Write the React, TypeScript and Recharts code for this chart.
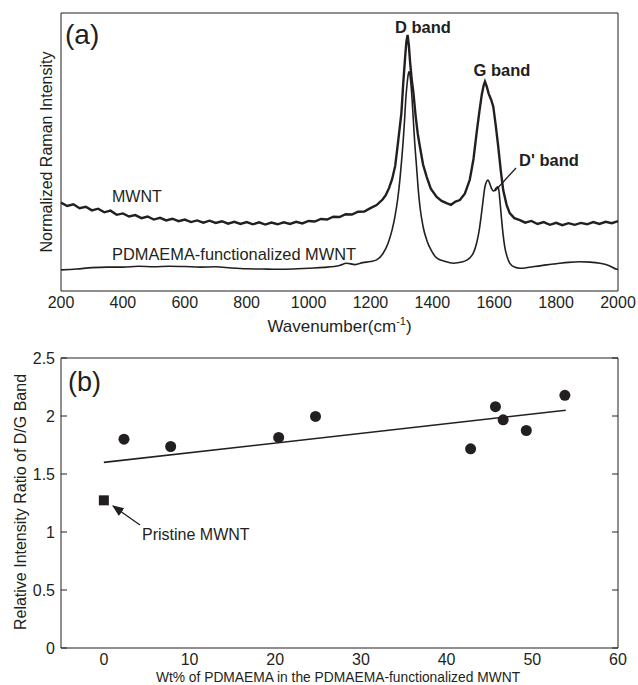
import {
  ComposedChart,
  LineChart,
  Line,
  Scatter,
  XAxis,
  YAxis,
} from "recharts";

// (a) Raman spectra, intensity in normalized units (0 = bottom of frame, 100 = top)
const mwntWavenumber = [
  200, 220, 240, 260, 280, 300, 320, 340, 360, 380, 400, 420, 440, 460, 480, 500, 520, 540, 560, 580,
  600, 620, 640, 660, 680, 700, 720, 740, 760, 780, 800, 820, 840, 860, 880, 900, 920, 940, 960, 980,
  1000, 1020, 1040, 1060, 1080, 1100, 1120, 1140, 1160, 1180, 1200, 1220, 1240, 1250, 1260, 1270, 1280,
  1290, 1300, 1306, 1312, 1316, 1320, 1324, 1328, 1333, 1339, 1346, 1353, 1360, 1370, 1382, 1395, 1414,
  1430, 1446, 1460, 1475, 1489, 1505, 1521, 1533, 1543, 1552, 1560, 1566, 1570, 1576, 1582, 1590, 1597,
  1605, 1613, 1621, 1629, 1640, 1650, 1665, 1683, 1700, 1720, 1740, 1760, 1780, 1800, 1820, 1840, 1860,
  1880, 1900, 1920, 1940, 1960, 1980, 2000,
];
const mwntIntensity = [
  31.8, 30.6, 31.2, 29.8, 30.3, 29.0, 29.6, 28.3, 28.9, 27.4, 27.9, 26.8, 27.3, 26.2, 26.8, 25.7, 26.3, 25.4, 26.0, 25.1,
  25.7, 24.8, 25.4, 24.6, 25.3, 24.5, 25.1, 24.2, 24.9, 24.1, 24.8, 24.0, 24.7, 23.9, 24.6, 24.0, 24.7, 24.1, 24.9, 24.3,
  25.2, 25.0, 25.9, 25.7, 26.7, 26.6, 27.6, 27.5, 28.5, 28.6, 29.8, 30.9, 33.0, 34.6, 37.0, 40.2, 45.0,
  54.3, 64.0, 74.8, 84.0, 89.5, 92.1, 88.5, 82.5, 76.5, 71.2, 63.0, 56.5, 51.8, 45.5, 41.0, 36.8, 33.8,
  32.4, 31.6, 31.0, 32.2, 32.7, 35.0, 40.0, 47.5, 56.8, 64.5, 70.8, 74.0, 75.3, 73.5, 71.0, 68.8, 66.3,
  59.5, 51.9, 43.5, 36.3, 31.0, 28.0, 26.2, 25.5, 24.6, 25.2, 24.1, 24.8, 23.8, 24.5, 23.7, 24.4, 23.8,
  24.5, 24.0, 24.8, 24.1, 24.9, 24.4, 25.1,
];

const pdmWavenumber = [
  200, 250, 300, 350, 400, 450, 500, 550, 600, 650, 700, 750, 800, 850, 900, 950, 1000, 1050, 1100, 1123,
  1150, 1175, 1200, 1220, 1240, 1257, 1270, 1279, 1288, 1295, 1300, 1306, 1310, 1314, 1318, 1322, 1325,
  1329, 1333, 1338, 1343, 1349, 1354, 1360, 1370, 1382, 1397, 1414, 1440, 1468, 1495, 1510, 1521, 1533,
  1543, 1551, 1559, 1565, 1570, 1575, 1580, 1585, 1591, 1597, 1602, 1608, 1613, 1618, 1623, 1628, 1634,
  1642, 1650, 1665, 1683, 1700, 1730, 1769, 1800, 1840, 1877, 1910, 1942, 1970, 1996, 2000,
];
const pdmIntensity = [
  7.6, 7.9, 8.4, 8.6, 8.6, 8.9, 8.7, 8.9, 8.8, 8.6, 8.7, 8.3, 8.0, 7.9, 7.8, 7.9, 8.2, 8.5, 9.2, 10.0,
  9.5, 10.2, 10.6, 11.2, 13.4, 17.2, 22.0, 26.7, 33.0, 39.9, 46.0, 54.3, 61.0, 68.7, 74.0, 77.8, 78.9,
  76.5, 71.5, 62.7, 53.5, 44.7, 37.2, 30.3, 23.2, 18.3, 14.5, 11.9, 10.7, 10.0, 10.4, 11.0, 11.9, 13.8,
  17.2, 21.5, 28.0, 33.5, 37.5, 39.3, 39.9, 38.8, 37.0, 36.0, 36.3, 37.3, 37.5, 33.0, 26.7, 21.0, 15.9,
  12.2, 10.0, 8.6, 8.2, 8.3, 8.8, 9.4, 9.8, 10.3, 10.5, 10.4, 10.0, 9.2, 7.8, 7.7,
];
const wavenumberTicks = [200, 400, 600, 800, 1000, 1200, 1400, 1600, 1800, 2000];

// (b) D/G ratio vs polymer content
const wtPercent = [2.35, 7.8, 20.4, 24.7, 42.8, 45.7, 46.6, 49.3, 53.8];
const dgRatio = [1.8, 1.737, 1.815, 1.996, 1.717, 2.08, 1.967, 1.875, 2.178];
const pristineWt = [0];
const pristineRatio = [1.273];
const fitWt = [0, 53.9];
const fitRatio = [1.6, 2.05];
const wtTicks = [0, 10, 20, 30, 40, 50, 60];
const ratioTicks = [0, 0.5, 1, 1.5, 2, 2.5];

const INK = "#231f20";
const FONT = "'Liberation Sans', Arial, Helvetica, sans-serif";

const mwnt = mwntWavenumber.map((wn, i) => ({ wn, v: mwntIntensity[i] }));
const pdm = pdmWavenumber.map((wn, i) => ({ wn, v: pdmIntensity[i] }));
const points = wtPercent.map((w, i) => ({ w, r: dgRatio[i] }));
const pristine = pristineWt.map((w, i) => ({ w, r: pristineRatio[i] }));
const fit = fitWt.map((w, i) => ({ w, r: fitRatio[i] }));

const tickStyle = { fontSize: 16, fill: INK, fontFamily: FONT };
const blank = () => "";

function Dot(props: any) {
  return <circle cx={props.cx} cy={props.cy} r={5.5} fill={INK} />;
}

function Square(props: any) {
  return <rect x={props.cx - 5} y={props.cy - 5} width={10} height={10} fill={INK} />;
}

// frame-only axes: inward tick marks, no labels
function frameX(id: string, top: boolean, domain: number[], ticks: number[]) {
  return (
    <XAxis xAxisId={id} orientation={top ? "top" : "bottom"} type="number" domain={domain} ticks={ticks}
      allowDataOverflow mirror height={1} tickSize={6} tickFormatter={blank} interval={0}
      stroke={INK} tickLine={{ stroke: INK }} />
  );
}

function frameY(id: string, right: boolean, domain: number[], ticks: number[] | null) {
  return (
    <YAxis yAxisId={id} orientation={right ? "right" : "left"} type="number" domain={domain}
      ticks={ticks ?? undefined} tick={ticks ? undefined : false} allowDataOverflow mirror width={1}
      tickSize={6} tickFormatter={blank} interval={0} stroke={INK} tickLine={{ stroke: INK }} />
  );
}

function SpectraPanel() {
  return (
    <LineChart width={638} height={340} margin={{ top: 13, right: 20, bottom: 19, left: 61 }}>
      <XAxis
        type="number"
        dataKey="wn"
        domain={[200, 2000]}
        ticks={wavenumberTicks}
        height={30}
        tickSize={0}
        tickMargin={6}
        axisLine={false}
        tick={tickStyle}
      />
      {frameX("bm", false, [200, 2000], wavenumberTicks)}
      {frameX("tm", true, [200, 2000], wavenumberTicks)}
      <YAxis hide type="number" domain={[0, 100]} />
      {frameY("l", false, [0, 100], null)}
      {frameY("r", true, [0, 100], null)}
      <Line data={mwnt} dataKey="v" type="linear" stroke={INK} strokeWidth={2.4} dot={false}
        activeDot={false} isAnimationActive={false} />
      <Line data={pdm} dataKey="v" type="monotone" stroke={INK} strokeWidth={1.6} dot={false}
        activeDot={false} isAnimationActive={false} />
    </LineChart>
  );
}

function RatioPanel() {
  return (
    <ComposedChart width={638} height={345} margin={{ top: 18, right: 20, bottom: 12, left: 16 }}>
      <XAxis
        type="number"
        dataKey="w"
        domain={[-5, 60]}
        ticks={wtTicks}
        height={25}
        tickSize={0}
        tickMargin={6}
        axisLine={false}
        tick={tickStyle}
      />
      {frameX("bm", false, [-5, 60], wtTicks)}
      {frameX("tm", true, [-5, 60], wtTicks)}
      <YAxis
        type="number"
        dataKey="r"
        domain={[0, 2.5]}
        ticks={ratioTicks}
        width={45}
        tickSize={0}
        tickMargin={6}
        axisLine={false}
        tick={tickStyle}
      />
      {frameY("l", false, [0, 2.5], ratioTicks)}
      {frameY("r", true, [0, 2.5], ratioTicks)}
      <Line data={fit} dataKey="r" type="linear" stroke={INK} strokeWidth={1.6} dot={false}
        activeDot={false} isAnimationActive={false} />
      <Scatter data={points} dataKey="r" shape={<Dot />} isAnimationActive={false} />
      <Scatter data={pristine} dataKey="r" shape={<Square />} isAnimationActive={false} />
    </ComposedChart>
  );
}

export default function App() {
  return (
    <div style={{ position: "fixed", left: 0, top: 0, width: 638, height: 685, background: "#fff", fontFamily: FONT }}>
      <div style={{ position: "absolute", left: 0, top: 0 }}>
        <SpectraPanel />
      </div>
      <div style={{ position: "absolute", left: 0, top: 340 }}>
        <RatioPanel />
      </div>
      <svg width={638} height={685} style={{ position: "absolute", left: 0, top: 0, pointerEvents: "none" }}
        fontFamily={FONT} fill={INK}>
        <defs>
          <marker id="head" viewBox="0 0 10 10" refX="9" refY="5" markerWidth="9" markerHeight="9" orient="auto-start-reverse">
            <path d="M0,1 L10,5 L0,9 z" fill={INK} />
          </marker>
        </defs>
        {/* panel (a) */}
        <text x={65} y={44} fontSize={28}>(a)</text>
        <text x={423} y={33} fontSize={16.5} fontWeight="bold" textAnchor="middle">D band</text>
        <text x={502} y={76} fontSize={16.5} fontWeight="bold" textAnchor="middle">G band</text>
        <text x={549} y={166} fontSize={16.5} fontWeight="bold" textAnchor="middle">D' band</text>
        <line x1={516} y1={168} x2={495} y2={191} stroke={INK} strokeWidth={1.3} />
        <text x={112} y={202} fontSize={16}>MWNT</text>
        <text x={112} y={260} fontSize={16.4}>PDMAEMA-functionalized MWNT</text>
        <text transform="translate(52,152) rotate(-90)" fontSize={16} textAnchor="middle">
          Normalized Raman Intensity
        </text>
        <text x={339.5} y={332} fontSize={17} textAnchor="middle">
          Wavenumber(cm<tspan fontSize={11} dy={-7}>-1</tspan><tspan dy={7}>)</tspan>
        </text>
        {/* panel (b) */}
        <text x={68} y={391} fontSize={27}>(b)</text>
        <text transform="translate(26,502) rotate(-90)" fontSize={16} textAnchor="middle">
          Relative Intensity Ratio of D/G Band
        </text>
        <line x1={140} y1={525} x2={113} y2={506} stroke={INK} strokeWidth={1.3} markerEnd="url(#head)" />
        <text x={142} y={540} fontSize={16}>Pristine MWNT</text>
        <text x={338} y={682} fontSize={13.8} textAnchor="middle">
          Wt% of PDMAEMA in the PDMAEMA-functionalized MWNT
        </text>
      </svg>
    </div>
  );
}
